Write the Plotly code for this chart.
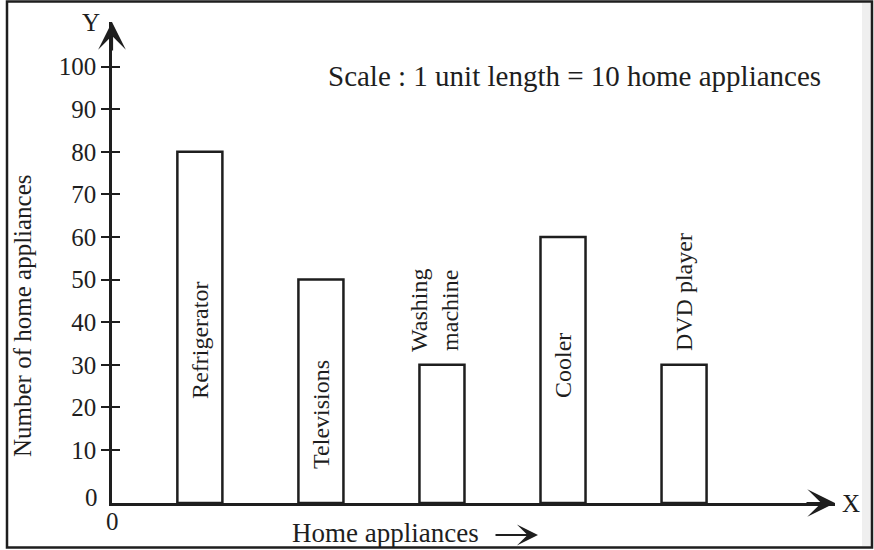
import plotly.graph_objects as go

# ---- data ----
categories = ["Refrigerator", "Televisions", "Washing machine", "Cooler", "DVD player"]
values = [80, 50, 30, 60, 30]
label_texts = ["Refrigerator", "Televisions", "Washing<br>machine", "Cooler", "DVD player"]
tick_values = [10, 20, 30, 40, 50, 60, 70, 80, 90, 100]
tick_labels = ["10", "20", "30", "40", "50", "60", "70", "80", "90", "100"]

# ---- layout constants ----
W, H = 874, 550
FONT = "Liberation Serif, Times New Roman, serif"
INK = "#1e1e1e"
Y_MIN, Y_MAX = -2.44, 110.47
X_RANGE = [-0.726, 5.247]
AX_L, AX_R, AX_T, AX_B = 112, 835, 22, 503


def px(x):
    return x / W


def py(y):
    return 1 - y / H


fig = go.Figure()
fig.add_trace(go.Bar(
    x=categories,
    y=[v - Y_MIN for v in values],
    base=Y_MIN,
    width=0.372,
    marker=dict(color="white", line=dict(color=INK, width=2.5)),
    hoverinfo="skip",
))

fig.update_layout(
    width=W, height=H,
    margin=dict(l=0, r=0, t=0, b=0),
    paper_bgcolor="white", plot_bgcolor="white",
    showlegend=False,
    font=dict(family=FONT, color=INK),
    xaxis=dict(
        domain=[px(AX_L), px(AX_R)], range=X_RANGE, type="category",
        showline=True, linecolor=INK, linewidth=2.5,
        showticklabels=False, ticks="", showgrid=False, zeroline=False,
        automargin=False, fixedrange=True,
    ),
    yaxis=dict(
        domain=[py(AX_B), py(AX_T)], range=[Y_MIN, Y_MAX],
        showline=True, linecolor=INK, linewidth=2.5,
        tickmode="array", tickvals=tick_values, ticktext=tick_labels,
        ticks="outside", ticklen=8, tickwidth=2, tickcolor=INK,
        tickfont=dict(family=FONT, size=25, color=INK),
        showgrid=False, zeroline=False, automargin=False,
    ),
    yaxis2=dict(
        domain=[py(AX_B), py(AX_T)], range=[Y_MIN, Y_MAX], overlaying="y",
        anchor="x", side="left",
        tickmode="array", tickvals=tick_values,
        ticks="inside", ticklen=8, tickwidth=2, tickcolor=INK,
        showticklabels=False, showgrid=False, zeroline=False, showline=False,
    ),
)

# invisible trace so yaxis2 is drawn
fig.add_trace(go.Scatter(x=[categories[0]], y=[Y_MIN], yaxis="y2", mode="markers",
                         marker=dict(opacity=0), hoverinfo="skip"))

ann = []
# axis arrows
ann.append(dict(xref="paper", yref="paper", x=px(AX_L), y=py(AX_T), ax=0, ay=30,
                showarrow=True, arrowhead=3, arrowsize=2.1, arrowwidth=2.2,
                arrowcolor=INK, text=""))
ann.append(dict(xref="paper", yref="paper", x=px(AX_R), y=py(AX_B), ax=-30, ay=0,
                showarrow=True, arrowhead=3, arrowsize=2.1, arrowwidth=2.2,
                arrowcolor=INK, text=""))
# axis letters
ann.append(dict(xref="paper", yref="paper", x=px(91), y=py(22), text="Y",
                showarrow=False, font=dict(size=25), xanchor="center", yanchor="middle"))
ann.append(dict(xref="paper", yref="paper", x=px(851), y=py(503), text="X",
                showarrow=False, font=dict(size=25), xanchor="center", yanchor="middle"))
# origin labels
ann.append(dict(xref="paper", yref="paper", x=px(100), y=py(497), text="0",
                showarrow=False, font=dict(size=25), xanchor="right", yanchor="middle"))
ann.append(dict(xref="paper", yref="paper", x=px(112), y=py(521), text="0",
                showarrow=False, font=dict(size=25), xanchor="center", yanchor="middle"))
# titles
ann.append(dict(xref="paper", yref="paper", x=px(22), y=py(316),
                text="Number of home appliances", textangle=-90,
                showarrow=False, font=dict(size=25), xanchor="center", yanchor="middle"))
ann.append(dict(xref="paper", yref="paper", x=px(290), y=py(533),
                text="Home appliances", showarrow=False, font=dict(size=27),
                xanchor="left", yanchor="middle"))
ann.append(dict(xref="paper", yref="paper", x=px(538), y=py(535), ax=-44, ay=0,
                showarrow=True, arrowhead=3, arrowsize=1.6, arrowwidth=2.2,
                arrowcolor=INK, text=""))
ann.append(dict(xref="paper", yref="paper", x=px(574), y=py(76),
                text="Scale : 1 unit length = 10 home appliances",
                showarrow=False, font=dict(size=29), xanchor="center", yanchor="middle"))

# rotated category labels
label_y = [340, 414, 310, 366, 292]
label_dx = [0, 0, -8, 0, 0]
for cat, txt, ly, dx in zip(categories, label_texts, label_y, label_dx):
    ann.append(dict(xref="x", yref="paper", x=cat, y=py(ly), text=txt, textangle=-90,
                    xshift=dx, showarrow=False, font=dict(size=24),
                    xanchor="center", yanchor="middle"))

fig.update_layout(annotations=ann)

# outer frame and the light strip at the right edge
fig.add_shape(type="rect", xref="paper", yref="paper",
              x0=px(862), x1=px(871), y0=py(546), y1=py(3),
              fillcolor="#efefef", line=dict(width=0), layer="below")
fig.add_shape(type="rect", xref="paper", yref="paper",
              x0=px(7), x1=px(872), y0=py(547.5), y1=py(1.5),
              line=dict(color=INK, width=2.5), fillcolor="rgba(0,0,0,0)")

fig.write_html(
    "out.html",
    config={"displayModeBar": False},
    post_script="document.body.style.margin='0';document.body.style.overflow='hidden';",
)
